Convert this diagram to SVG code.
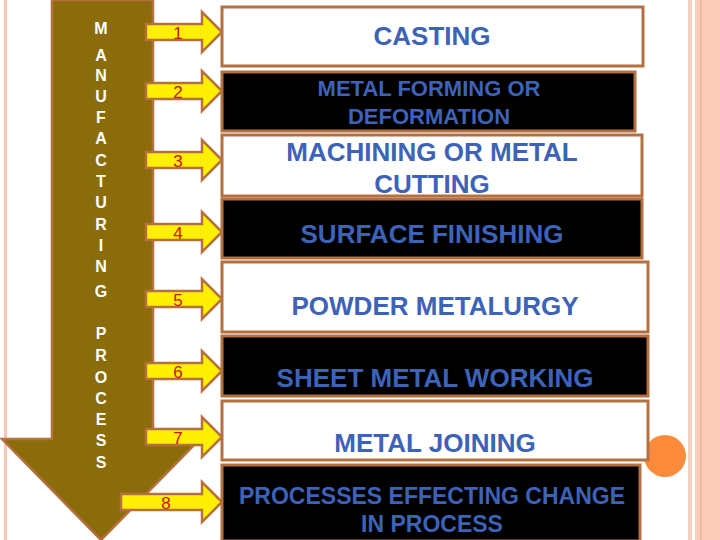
<svg xmlns="http://www.w3.org/2000/svg" width="720" height="540" viewBox="0 0 720 540">
<style>
.bx{stroke:#b5703f;stroke-width:3}
.w{fill:#fff}.k{fill:#000}
.t{font-family:"Liberation Sans",Arial,sans-serif;fill:#3d63b8;text-anchor:middle;font-weight:bold}
.ar{fill:#ffef00;stroke:#b5703f;stroke-width:2.5}
.n{font-family:"Liberation Sans",Arial,sans-serif;font-size:17px;fill:#d01010;text-anchor:middle}
.l{font-family:"Liberation Sans",Arial,sans-serif;font-size:16px;font-weight:bold;fill:#fff;text-anchor:middle}
</style>
<rect width="720" height="540" fill="#fff"/>
<rect x="4" y="0" width="3" height="540" fill="#f7c6b5"/>
<rect x="688" y="0" width="4" height="540" fill="#f9d0c0"/>
<rect x="695" y="0" width="25" height="540" fill="#fbcdb9"/>
<rect x="700" y="0" width="2" height="540" fill="#f4b8a2"/>
<g id="bigarrow">
<polygon points="52,0 153,0 153,439 200,439 101,540 2,439 52,439" fill="#8b6c0b" stroke="#b5703f" stroke-width="2.5"/>
<text class="l" x="101" y="34" font-size="20" font-weight="normal">M</text>
<g class="l"><text x="101" y="61">A</text><text x="101" y="81">N</text><text x="101" y="102">U</text><text x="101" y="123">F</text><text x="101" y="144">A</text><text x="101" y="166">C</text><text x="101" y="187">T</text><text x="101" y="208">U</text><text x="101" y="230">R</text><text x="101" y="251">I</text><text x="101" y="272">N</text><text x="101" y="297">G</text>
<text x="101" y="339">P</text><text x="101" y="361">R</text><text x="101" y="383">O</text><text x="101" y="404">C</text><text x="101" y="425">E</text><text x="101" y="446">S</text><text x="101" y="468">S</text></g>
</g>
<g id="connectors">
<polygon class="ar" points="146,24 202,24 202,12 222,32 202,52 202,40 146,40"/><text class="n" x="178" y="39">1</text>
<polygon class="ar" points="146,83 202,83 202,71 222,91 202,111 202,99 146,99"/><text class="n" x="178" y="98">2</text>
<polygon class="ar" points="146,152 202,152 202,140 222,160 202,180 202,168 146,168"/><text class="n" x="178" y="167">3</text>
<polygon class="ar" points="146,224 202,224 202,212 222,232 202,252 202,240 146,240"/><text class="n" x="178" y="239">4</text>
<polygon class="ar" points="146,291 202,291 202,279 222,299 202,319 202,307 146,307"/><text class="n" x="178" y="306">5</text>
<polygon class="ar" points="146,363 202,363 202,351 222,371 202,391 202,379 146,379"/><text class="n" x="178" y="378">6</text>
<polygon class="ar" points="146,429 202,429 202,417 222,437 202,457 202,445 146,445"/><text class="n" x="178" y="444">7</text>
<polygon class="ar" points="121,494 202,494 202,482 222,502 202,522 202,510 121,510"/><text class="n" x="166" y="509">8</text>
</g>
<circle cx="665" cy="456" r="21" fill="#fb8a3a"/>
<g id="b1"><rect class="bx w" x="222" y="7" width="421" height="59"/><text class="t" x="432" y="45" font-size="26">CASTING</text></g>
<g id="b2"><rect class="bx k" x="222" y="72" width="413" height="59"/><text class="t" x="429" y="96" font-size="22">METAL FORMING OR</text><text class="t" x="429" y="124" font-size="22">DEFORMATION</text></g>
<g id="b3"><rect class="bx w" x="222" y="135" width="420" height="61"/><text class="t" x="432" y="161" font-size="26">MACHINING OR METAL</text><text class="t" x="432" y="193" font-size="26">CUTTING</text></g>
<g id="b4"><rect class="bx k" x="222" y="199" width="420" height="59"/><text class="t" x="432" y="243" font-size="26">SURFACE FINISHING</text></g>
<g id="b5"><rect class="bx w" x="222" y="262" width="426" height="70"/><text class="t" x="435" y="315" font-size="26">POWDER METALURGY</text></g>
<g id="b6"><rect class="bx k" x="222" y="336" width="426" height="60"/><text class="t" x="435" y="387" font-size="26">SHEET METAL WORKING</text></g>
<g id="b7"><rect class="bx w" x="222" y="401" width="426" height="59"/><text class="t" x="435" y="452" font-size="26">METAL JOINING</text></g>
<g id="b8"><rect class="bx k" x="222" y="465" width="418" height="76"/><text class="t" x="432" y="504" font-size="23">PROCESSES EFFECTING CHANGE</text><text class="t" x="432" y="532" font-size="23">IN PROCESS</text></g>
</svg>
